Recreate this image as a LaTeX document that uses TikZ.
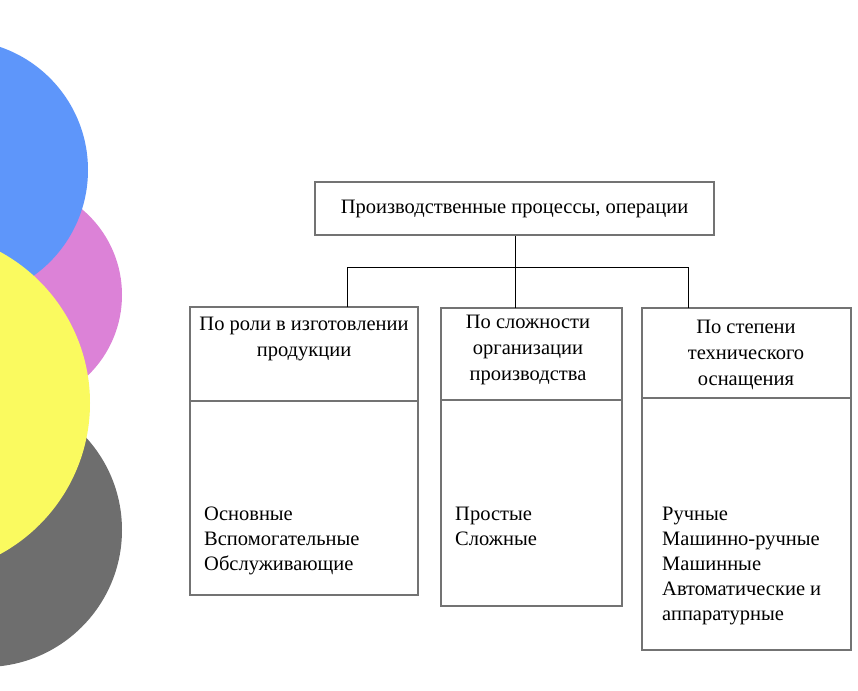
\documentclass[tikz,border=0pt]{standalone}
\usepackage{fontspec}
\setmainfont{Liberation Serif}
\definecolor{cgray}{RGB}{110,110,110}
\definecolor{cpink}{RGB}{220,130,215}
\definecolor{cblue}{RGB}{94,150,250}
\definecolor{cyel}{RGB}{250,250,95}
\begin{document}
\begin{tikzpicture}[x=1pt,y=-1pt,
  bx/.style={draw=black!55,line width=1.6pt},
  ln/.style={draw=black,line width=1pt},
  tx/.style={font=\fontsize{20.5}{26}\selectfont,align=center,inner sep=0pt},
  lt/.style={font=\fontsize{20.5}{25}\selectfont,align=left,anchor=north west,inner sep=0pt}]
\useasboundingbox (0,0) rectangle (858,690);
\fill[white] (0,0) rectangle (858,690);
\begin{scope}
\clip (0,0) rectangle (858,690);
\fill[cgray] (-15,530) circle (137);
\fill[cpink] (10,295) circle (112);
\fill[cblue] (-42,170) circle (130);
\fill[cyel] (-82,403) circle (172);
\end{scope}
\node[bx,minimum width=399pt,minimum height=53pt,tx] (top) at (514.5,208.5) {Производственные процессы, операции};
\draw[bx] (190,307) rectangle (418,595); \draw[bx] (190,401) -- (418,401);
\draw[bx] (441,308) rectangle (622,606); \draw[bx] (441,400) -- (622,400);
\draw[bx] (642,308) rectangle (851,650); \draw[bx] (642,398) -- (851,398);
\coordinate (b1) at (347,307); \coordinate (b2) at (515,308); \coordinate (b3) at (688,308);
\draw[ln] (top.south -| b2) -- (b2);
\draw[ln] (b1) -- (347,267) -- (688,267) -- (b3);
\node[tx] at (304,339) {По роли в изготовлении\\продукции};
\node[tx] at (528,350) {По сложности\\организации\\производства};
\node[tx] at (746,355) {По степени\\технического\\оснащения};
\node[lt] at (204,507) {Основные\\Вспомогательные\\Обслуживающие};
\node[lt] at (455,507) {Простые\\Сложные};
\node[lt] at (662,507) {Ручные\\Машинно-ручные\\Машинные\\Автоматические и\\аппаратурные};
\end{tikzpicture}
\end{document}
